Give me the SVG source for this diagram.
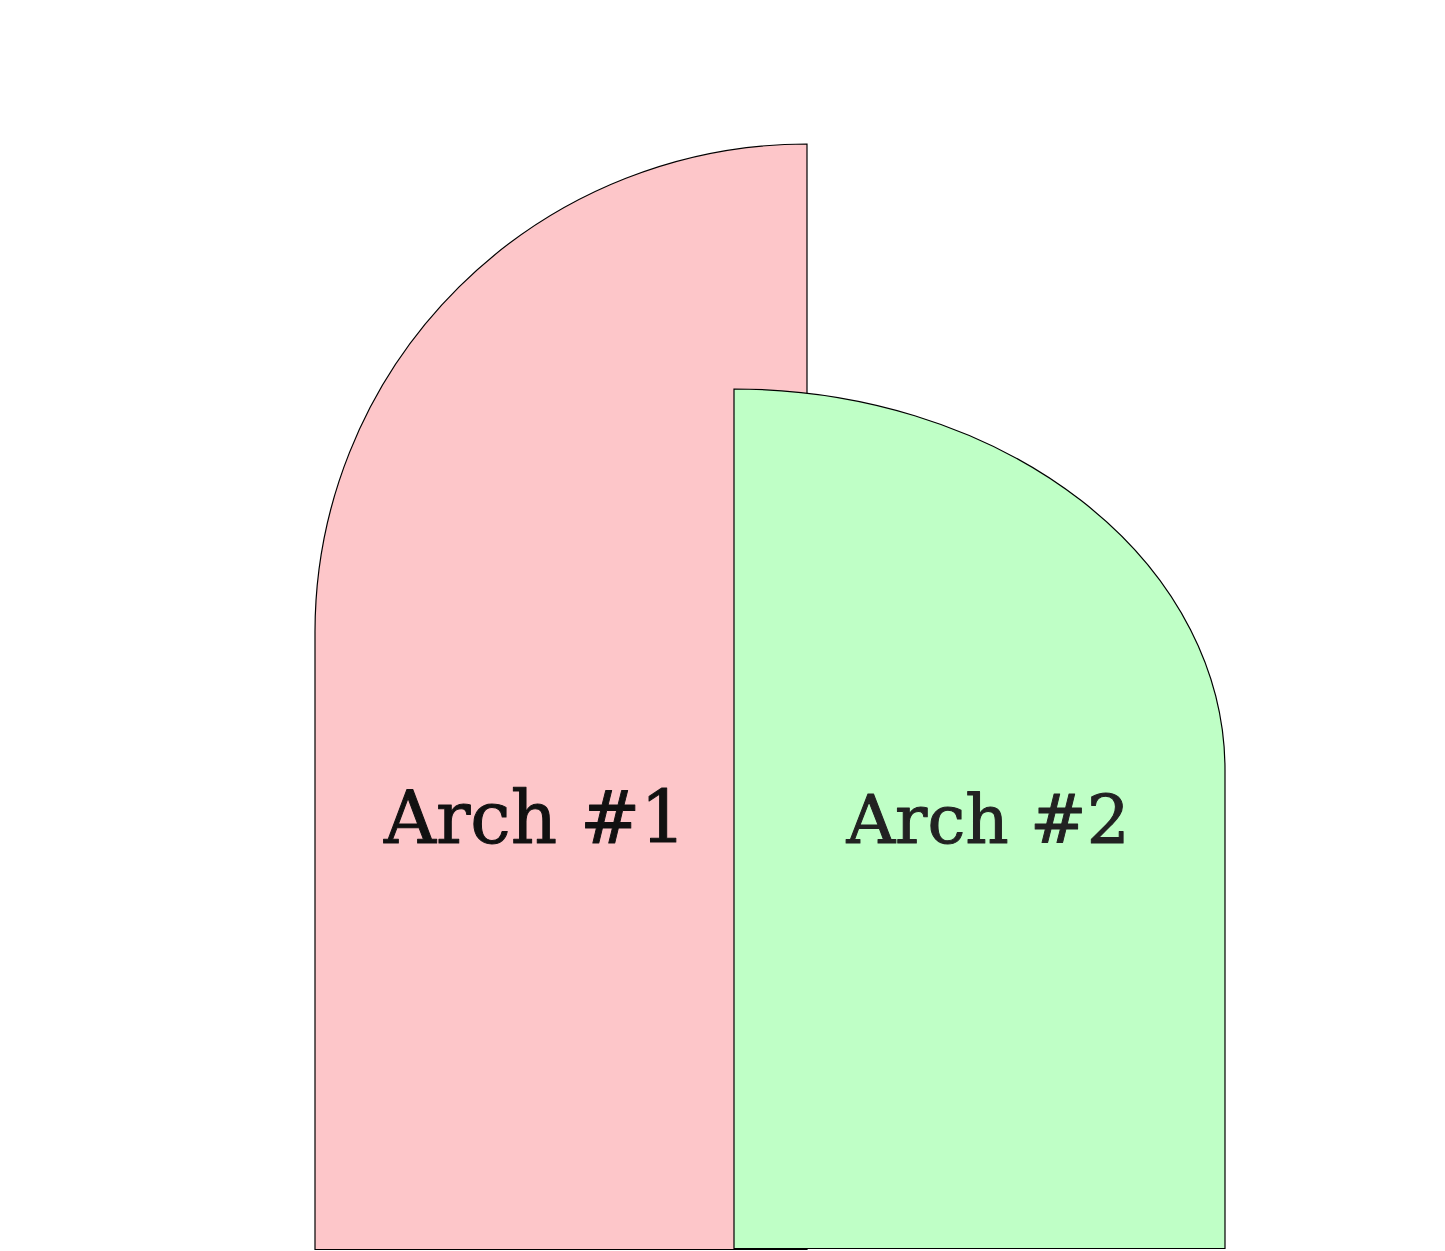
<svg xmlns="http://www.w3.org/2000/svg" width="1445" height="1251" viewBox="0 0 1445 1251">
<style>
.shape{stroke:#000;stroke-width:1.2}
.label{font-family:"DejaVu Serif",serif;text-anchor:middle;stroke-width:1;stroke-linejoin:round}
</style>
<rect width="1445" height="1251" fill="#fff"/>
<g id="arch1">
<path class="shape" fill="#fdc6c9" d="M315,1249.5 V632 A492,488 0 0 1 807,144 V1249.5 Z"/>
<text class="label" x="535" y="843" font-size="72" fill="#111" stroke="#111">Arch #1</text>
</g>
<g id="arch2">
<path class="shape" fill="#bfffc6" d="M734,1248.5 V389 A491,381 0 0 1 1225,770 V1248.5 Z"/>
<text class="label" x="988" y="843" font-size="67.5" fill="#222" stroke="#222">Arch #2</text>
</g>
<g id="connectors"/>
</svg>
